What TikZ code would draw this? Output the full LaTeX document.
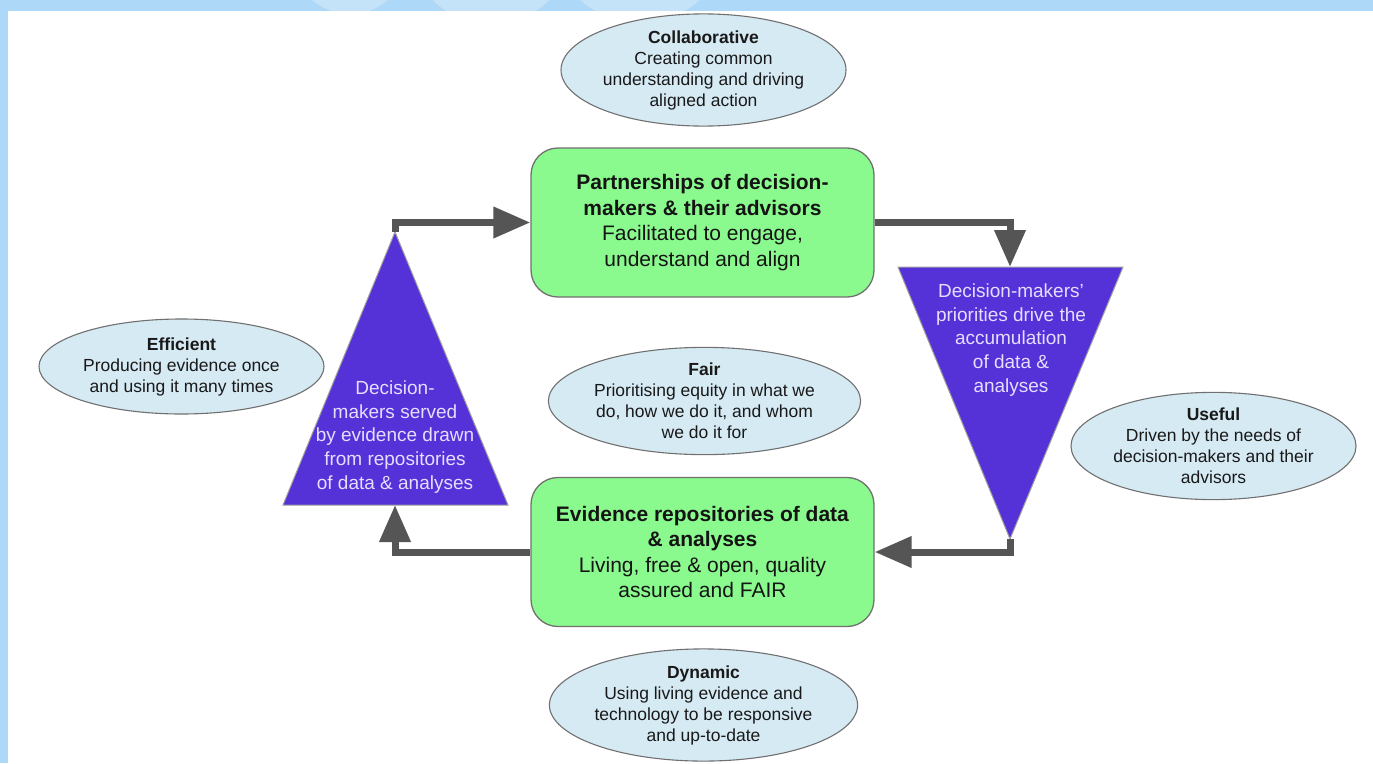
\documentclass[tikz,border=0pt]{standalone}
\usepackage{fontspec}
\setmainfont{Liberation Sans}
\usetikzlibrary{arrows.meta,shapes.geometric}
\definecolor{bgblue}{HTML}{AED8F7}
\definecolor{bandlight}{HTML}{C4E2F8}
\definecolor{ellfill}{HTML}{D6EAF4}
\definecolor{boxgreen}{HTML}{8BFA8E}
\definecolor{tripurple}{HTML}{5531D8}
\definecolor{tritext}{HTML}{E6DEFF}
\definecolor{arrowgray}{HTML}{555555}
\definecolor{edgegray}{HTML}{707070}
\begin{document}
\begin{tikzpicture}[x=1pt,y=-1pt,
  ell/.style={ellipse, draw=edgegray, line width=1.1pt, fill=ellfill, inner sep=0pt,
    minimum width=285pt, minimum height=95pt, align=center,
    font=\fontsize{17.5}{21}\selectfont, text=black!90},
  gbox/.style={draw=edgegray, line width=1.3pt, fill=boxgreen, rounded corners=27pt,
    minimum width=343pt, minimum height=149pt, align=center, inner sep=0pt,
    font=\fontsize{21}{25.5}\selectfont, text=black!92},
  tri/.style={fill=tripurple, draw=gray!75, line width=1pt},
  trilabel/.style={align=center, text=tritext, font=\fontsize{19}{23.6}\selectfont},
  flow/.style={draw=arrowgray, line width=7pt, -{Triangle[length=37pt,width=30pt]}}
]
% background and frame
\fill[bgblue] (0,0) rectangle (1373,763);
\begin{scope}
  \clip (0,0) rectangle (1373,11);
  \fill[bandlight] (350,-45) circle (59);
  \fill[bandlight] (491,-59) circle (83);
  \fill[bandlight] (640,-66) circle (89);
\end{scope}
\fill[white] (8,11) rectangle (1373,763);
\useasboundingbox (0,0) rectangle (1373,763);

% green boxes
\node[gbox] (P) at (702.5,222.5) {\textbf{Partnerships of decision-}\\\textbf{makers \& their advisors}\\Facilitated to engage,\\understand and align};
\node[gbox] (E) at (702.5,552) {\textbf{Evidence repositories of data}\\\textbf{\& analyses}\\Living, free \& open, quality\\assured and FAIR};

% left triangle (pointing up)
\coordinate (LA) at (395,232);
\coordinate (LBL) at (283,505);
\coordinate (LBR) at (508,505);
\coordinate (LB) at (395,505);
\path[tri] (LA) -- (LBR) -- (LBL) -- cycle;
\node[trilabel] (Ltext) at (395,437) {Decision-\\makers served\\by evidence drawn\\from repositories\\of data \& analyses};

% right triangle (pointing down)
\coordinate (RTL) at (898,267);
\coordinate (RTR) at (1123,267);
\coordinate (RT) at (1010,267);
\coordinate (RA) at (1010,539);
\path[tri] (RTL) -- (RTR) -- (RA) -- cycle;
\node[trilabel] (Rtext) at (1011,340) {Decision-makers’\\priorities drive the\\accumulation\\of data \&\\analyses};

% connectors
\draw[flow] (LA) |- (P.west);
\draw[flow] (P.east) -| (RT);
\draw[flow] (RA) |- (E.east);
\draw[flow] (E.west) -| (LB);

% principle ellipses
\node[ell] (collab) at (703.5,70) {\textbf{Collaborative}\\Creating common\\understanding and driving\\aligned action};
\node[ell] (eff) at (181.5,366.5) {\textbf{Efficient}\\Producing evidence once\\and using it many times};
\node[ell] (fair) at (704.5,401) {\textbf{Fair}\\Prioritising equity in what we\\do, how we do it, and whom\\we do it for};
\node[ell] (useful) at (1213.5,446) {\textbf{Useful}\\Driven by the needs of\\decision-makers and their\\advisors};
\node[ell] (dyn) at (703.5,705) {\textbf{Dynamic}\\Using living evidence and\\technology to be responsive\\and up-to-date};
\end{tikzpicture}
\end{document}
